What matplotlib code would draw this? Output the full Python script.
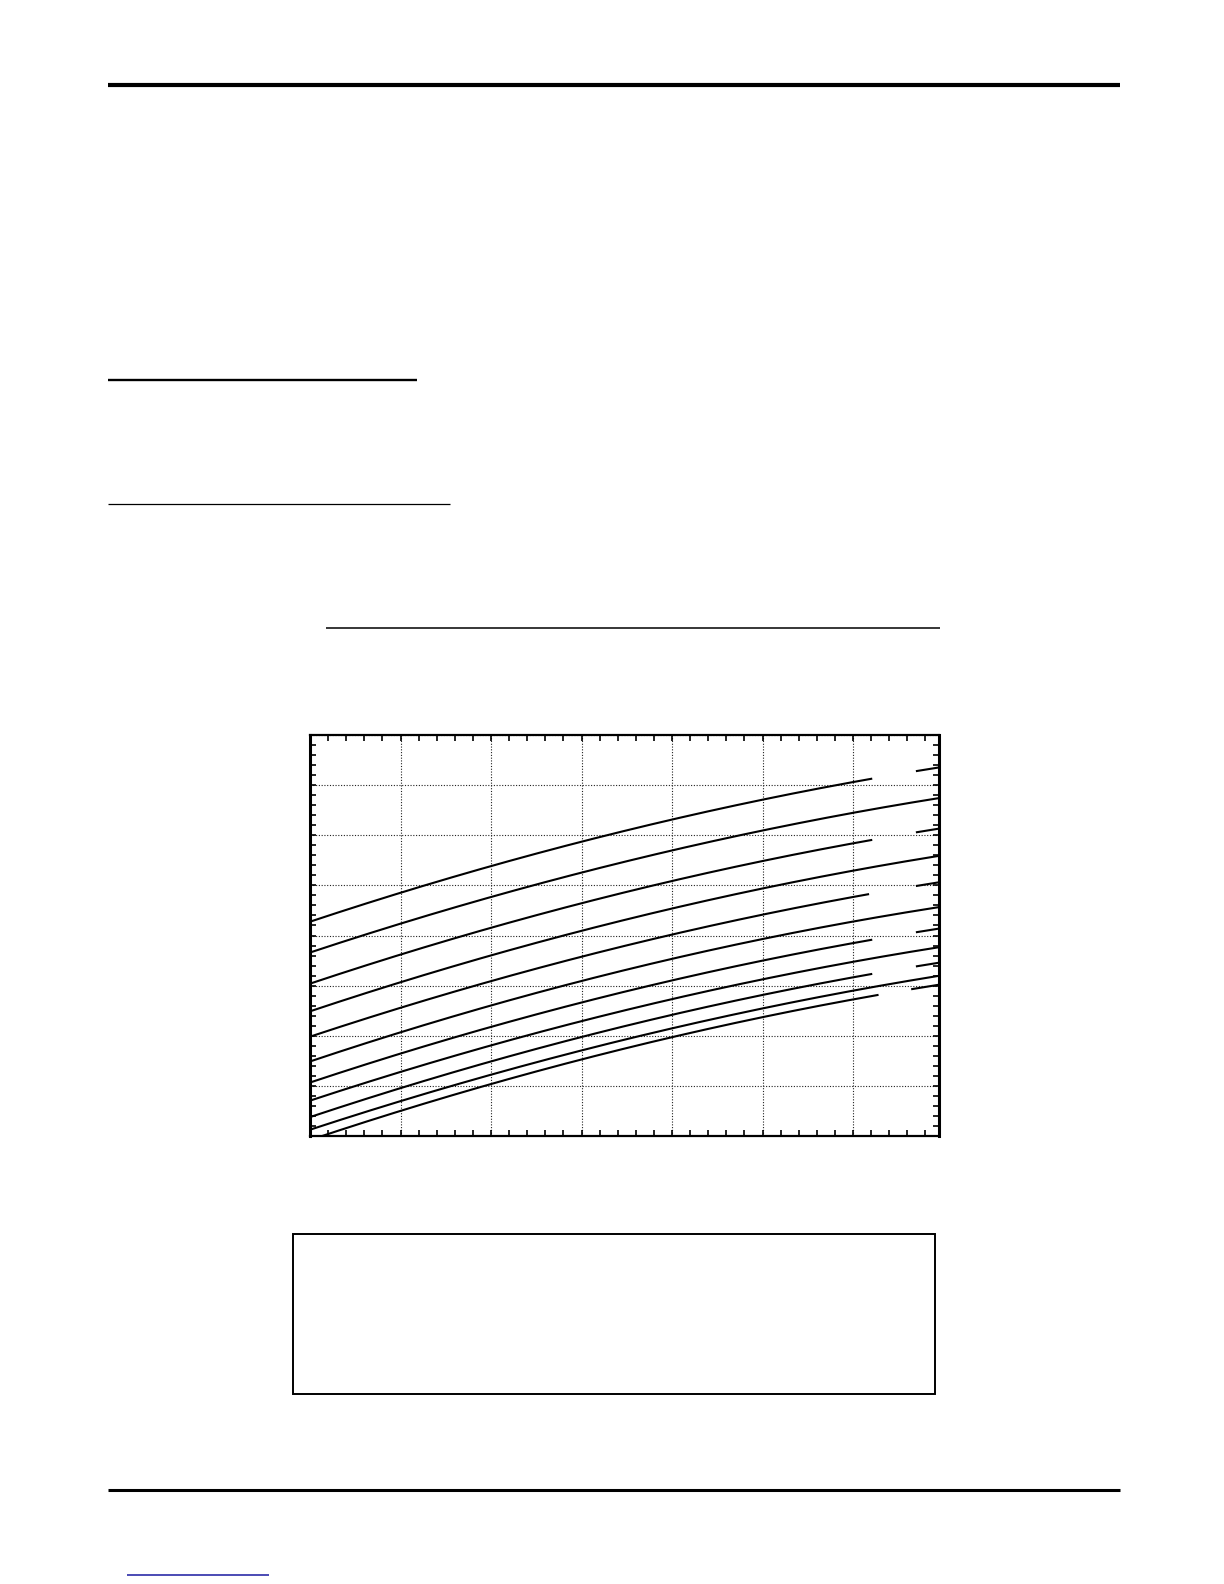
import numpy as np
import matplotlib
matplotlib.use("Agg")
import matplotlib.pyplot as plt
from matplotlib.lines import Line2D
from matplotlib.patches import Rectangle
from matplotlib.ticker import MultipleLocator

W, H, DPI = 1224, 1584, 100

# sample positions along x (major grid units) and the curve values
x_pts = [0, 1, 2, 3, 4, 5, 6, 6.95]
curves = [
    [4.28, 4.85, 5.38, 5.87, 6.31, 6.71, 7.08, 7.34],
    [3.67, 4.23, 4.76, 5.25, 5.70, 6.09, 6.48, 6.72],
    [3.05, 3.61, 4.15, 4.64, 5.08, 5.49, 5.87, 6.11],
    [2.50, 3.05, 3.60, 4.10, 4.53, 4.95, 5.30, 5.58],
    [1.99, 2.54, 3.10, 3.58, 4.01, 4.41, 4.79, 5.05],
    [1.50, 2.05, 2.60, 3.10, 3.53, 3.94, 4.28, 4.56],
    [1.07, 1.64, 2.18, 2.66, 3.10, 3.50, 3.86, 4.13],
    [0.71, 1.27, 1.82, 2.28, 2.72, 3.13, 3.50, 3.75],
    [0.37, 0.97, 1.49, 1.96, 2.42, 2.81, 3.18, 3.45],
    [0.12, 0.71, 1.22, 1.70, 2.14, 2.54, 2.93, 3.18],
    [-0.08, 0.51, 1.03, 1.52, 1.96, 2.38, 2.75, 3.00],
]
# curves broken by (empty) label boxes near the right edge: index -> (x start, x end)
label_gaps = {0: (6.21, 6.70), 2: (6.21, 6.70), 4: (6.18, 6.69),
              6: (6.21, 6.70), 8: (6.21, 6.70), 10: (6.28, 6.64)}


def fx(px):
    return px / W


def fy(py):
    return 1 - py / H


fig = plt.figure(figsize=(W / DPI, H / DPI), dpi=DPI)
fig.patch.set_facecolor("white")

# page rules
def hline(y, x0, x1, lw, color="black"):
    fig.add_artist(Line2D([fx(x0), fx(x1)], [fy(y), fy(y)], lw=lw, color=color,
                          solid_capstyle="butt", transform=fig.transFigure))

hline(85, 108, 1120, 3.0)
hline(380, 108, 417, 1.7)
hline(503.5, 108, 450, 0.9)
hline(628.5, 326, 940, 1.1)
hline(1490, 108, 1120, 2.2)
hline(1575.3, 127, 269, 1.1, color="#1a1aa0")

# empty caption box
fig.add_artist(Rectangle((fx(293), fy(1394)), fx(935) - fx(293), (1394 - 1234) / H,
                         fill=False, lw=1.4, edgecolor="black",
                         transform=fig.transFigure))

# chart
ax = fig.add_axes([fx(310), fy(1136), fx(939) - fx(310), (1136 - 735) / H])
ax.set_xlim(0, 6.95)
ax.set_ylim(0, 8)

xs = np.linspace(0, 6.95, 400)
for i, vals in enumerate(curves):
    # smooth curve through the read points
    ys = np.polyval(np.polyfit(x_pts, vals, 2), xs)
    if i in label_gaps:
        a, b = label_gaps[i]
        ys = np.where((xs > a) & (xs < b), np.nan, ys)
        yc = np.interp((a + b) / 2, x_pts, vals)
        ax.add_patch(Rectangle((a, yc - 0.16), b - a, 0.32, facecolor="white",
                               edgecolor="none", zorder=1.5))
    ax.plot(xs, ys, color="black", lw=1.5, zorder=3)

ax.xaxis.set_major_locator(MultipleLocator(1))
ax.xaxis.set_minor_locator(MultipleLocator(0.2))
ax.yaxis.set_major_locator(MultipleLocator(1))
ax.yaxis.set_minor_locator(MultipleLocator(0.2))
ax.grid(which="major", color="#222222", lw=0.8, linestyle=(0, (1, 1.5)), zorder=1)
ax.tick_params(which="both", direction="in", top=True, right=True,
               length=4.3, width=1.2, labelbottom=False, labelleft=False)
for side in ax.spines:
    ax.spines[side].set_linewidth(1.6)
ax.spines["left"].set_linewidth(2.2)
ax.spines["right"].set_linewidth(2.2)

fig.savefig("out.png", dpi=DPI, facecolor="white")
